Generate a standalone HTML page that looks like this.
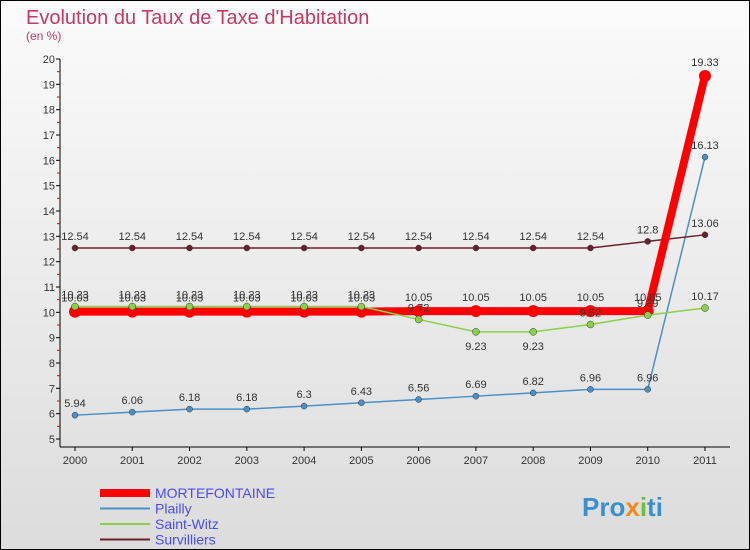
<!DOCTYPE html>
<html><head><meta charset="utf-8"><style>
body{margin:0;width:750px;height:550px;overflow:hidden;font-family:"Liberation Sans",sans-serif}
svg{display:block}
</style></head><body>
<svg id="c" width="750" height="550">
<defs><linearGradient id="bg" x1="0" y1="0" x2="0" y2="1"><stop offset="0" stop-color="#fbfbfb"/><stop offset="1" stop-color="#dcdcdc"/></linearGradient></defs>
<rect x="0.5" y="0.5" width="749" height="549" fill="url(#bg)" stroke="#000"/>
<text x="26" y="24" font-size="20" fill="#c8385f">Evolution du Taux de Taxe d'Habitation</text>
<text x="26" y="40" font-size="12" fill="#c8385f">(en %)</text>
<g id="axes"></g><g id="series"></g><g id="legend"></g>
<text x="582" y="516" font-size="26" font-weight="bold" fill="#3a8fd0">Pro<tspan fill="#f08a1c">x</tspan><tspan fill="#6cbf3c">i</tspan>ti</text>
</svg>
<script>
const years=[2000,2001,2002,2003,2004,2005,2006,2007,2008,2009,2010,2011];
const yTicks=[5,6,7,8,9,10,11,12,13,14,15,16,17,18,19,20];
const mortefontaine=[10.03,10.03,10.03,10.03,10.03,10.03,10.05,10.05,10.05,10.05,10.05,19.33];
const plailly=[5.94,6.06,6.18,6.18,6.3,6.43,6.56,6.69,6.82,6.96,6.96,16.13];
const saintWitz=[10.23,10.23,10.23,10.23,10.23,10.23,9.72,9.23,9.23,9.52,9.89,10.17];
const survilliers=[12.54,12.54,12.54,12.54,12.54,12.54,12.54,12.54,12.54,12.54,12.8,13.06];
const NS='http://www.w3.org/2000/svg';
const X=i=>75+i*(630/11);
const Y=v=>439-(v-5)*(380/15);
function mk(t,a,p){const e=document.createElementNS(NS,t);for(const k in a)e.setAttribute(k,a[k]);p.appendChild(e);return e;}
const ax=document.getElementById('axes');
const yl=mk('line',{x1:60,y1:59,x2:60,y2:447,stroke:'#000'},ax);


const xl=mk('line',{x1:60,y1:447,x2:730,y2:447,stroke:'#000'},ax);


yTicks.forEach(v=>{
  mk('line',{x1:56,y1:Y(v),x2:60,y2:Y(v),stroke:'#000'},ax);
  if(v<20)mk('line',{x1:57,y1:Y(v+0.5),x2:60,y2:Y(v+0.5),stroke:'#e00'},ax);
  const t=mk('text',{x:55,y:Y(v)+4,'font-size':11,fill:'#333','text-anchor':'end'},ax);t.textContent=v;
  
  
});
years.forEach((y,i)=>{
  mk('line',{x1:X(i),y1:447,x2:X(i),y2:451,stroke:'#000'},ax);
  const t=mk('text',{x:X(i),y:464,'font-size':11,fill:'#333','text-anchor':'middle'},ax);t.textContent=y;
  
  
});
const sg=document.getElementById('series');
function series(data,color,w,r,name,dy){
  const g=mk('g',{},sg);
  
  
  mk('polyline',{points:data.map((v,i)=>X(i)+','+Y(v)).join(' '),fill:'none',stroke:color,'stroke-width':w},g);
  data.forEach((v,i)=>{
    const c=mk('circle',{cx:X(i),cy:Y(v),r:r,fill:color,stroke:r<5?'#333':'none','stroke-width':0.5},g);
    
    
    const t=mk('text',{x:X(i),y:Y(v)+dy(i),'font-size':11,fill:'#333','text-anchor':'middle'},g);t.textContent=v;
    
    
  });
}
series(plailly,'#4a90c8',1.5,3,'plailly-series',()=>-8);
series(survilliers,'#6b1f2a',1.5,3,'survilliers-series',()=>-8);
series(mortefontaine,'#ff0000',8,6,'mortefontaine-series',()=>-10);
series(saintWitz,'#88d14a',1.5,3.5,'saint-witz-series',i=>(i===7||i===8)?18:-8);
const lg=document.getElementById('legend');
[['MORTEFONTAINE','#ff0000',8],['Plailly','#4a90c8',2],['Saint-Witz','#88d14a',2],['Survilliers','#6b1f2a',2]].forEach((d,i)=>{
  const g=mk('g',{},lg);
  
  
  const y=493+i*15.5;
  mk('line',{x1:100,y1:y,x2:150,y2:y,stroke:d[1],'stroke-width':d[2]},g);
  const t=mk('text',{x:155,y:y+5,'font-size':14,fill:'#4a4aff'},g);t.textContent=d[0];
});
</script>
</body></html>
